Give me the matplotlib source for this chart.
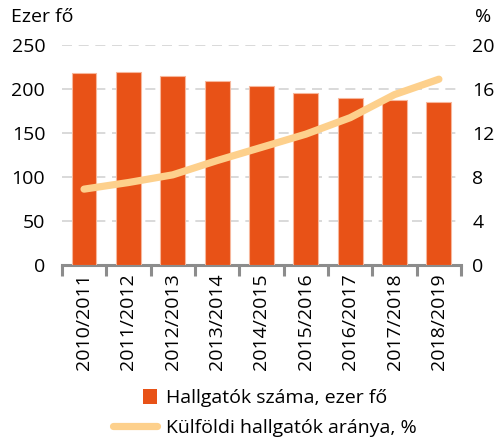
import numpy as np
import matplotlib.pyplot as plt
from matplotlib.lines import Line2D
from matplotlib.patches import Patch, Rectangle
from matplotlib.legend_handler import HandlerPatch

plt.rcParams['font.family'] = ['Open Sans', 'DejaVu Sans']

# tanévek, hallgatók száma (ezer fő), külföldi hallgatók aránya (%)
years = ['2010/2011', '2011/2012', '2012/2013', '2013/2014', '2014/2015',
         '2015/2016', '2016/2017', '2017/2018', '2018/2019']
students = [218, 219, 214.5, 209, 203.5, 195.5, 190, 187.5, 185]
foreign_share = [6.9, 7.5, 8.2, 9.5, 10.7, 11.9, 13.4, 15.5, 16.9]

bar_color = '#e85217'
line_color = '#fdd08c'
fs = 14

fig = plt.figure(figsize=(4.99, 4.38), dpi=100)
ax = fig.add_axes([0.124, 0.395, 0.8, 0.502])
ax2 = ax.twinx()

x = np.arange(len(years))
ax.bar(x, students, width=0.56, color=bar_color, edgecolor='#f7b79c', linewidth=0.8, zorder=3)
ax2.plot(x, foreign_share, color=line_color, linewidth=5.2, solid_capstyle='round',
         solid_joinstyle='round', zorder=4)

ax.set_xlim(-0.5, len(years) - 0.5)
ax.set_ylim(0, 250)
ax2.set_ylim(0, 20)
ax.set_yticks(np.arange(0, 251, 50))
ax2.set_yticks(np.arange(0, 21, 4))

# dashed horizontal gridlines
for v in range(50, 251, 50):
    ax.axhline(v, color='#d3d3d3', linewidth=1.2, dashes=(6, 4), zorder=1)

for a in (ax, ax2):
    for s in a.spines.values():
        s.set_visible(False)
    a.tick_params(axis='y', length=0, labelsize=fs)

ax.spines['bottom'].set_visible(True)
ax.spines['bottom'].set_color('#8c8c8c')
ax.spines['bottom'].set_linewidth(2.2)

# category labels, ticks between categories
ax.set_xticks(x)
ax.set_xticklabels(years, rotation=90, fontsize=fs)
ax.tick_params(axis='x', which='major', length=0, pad=6)
ax.set_xticks(np.arange(-0.5, len(years), 1), minor=True)
ax.tick_params(axis='x', which='minor', length=8, width=2.2, color='#8c8c8c')
ax.tick_params(axis='y', pad=12)
ax2.tick_params(axis='y', pad=8)

fig.text(0.022, 0.962, 'Ezer fő', fontsize=fs, va='center', ha='left')
fig.text(0.952, 0.962, '%', fontsize=fs, va='center', ha='left')


def square_patch(legend, orig_handle, xdescent, ydescent, width, height, fontsize):
    side = height
    return Rectangle((width - side - xdescent, -ydescent), side, side)


handles = [Patch(facecolor=bar_color, edgecolor='none'),
           Line2D([0], [0], color=line_color, linewidth=5.2, solid_capstyle='round')]
labels = ['Hallgatók száma, ezer fő', 'Külföldi hallgatók aránya, %']
fig.legend(handles, labels, loc='lower left', bbox_to_anchor=(0.21, -0.016), frameon=False,
           fontsize=fs, handlelength=2.3, handleheight=0.78, handletextpad=0.45,
           labelspacing=0.6, borderaxespad=0.0,
           handler_map={Patch: HandlerPatch(patch_func=square_patch)})

fig.savefig('out.png', dpi=100)
